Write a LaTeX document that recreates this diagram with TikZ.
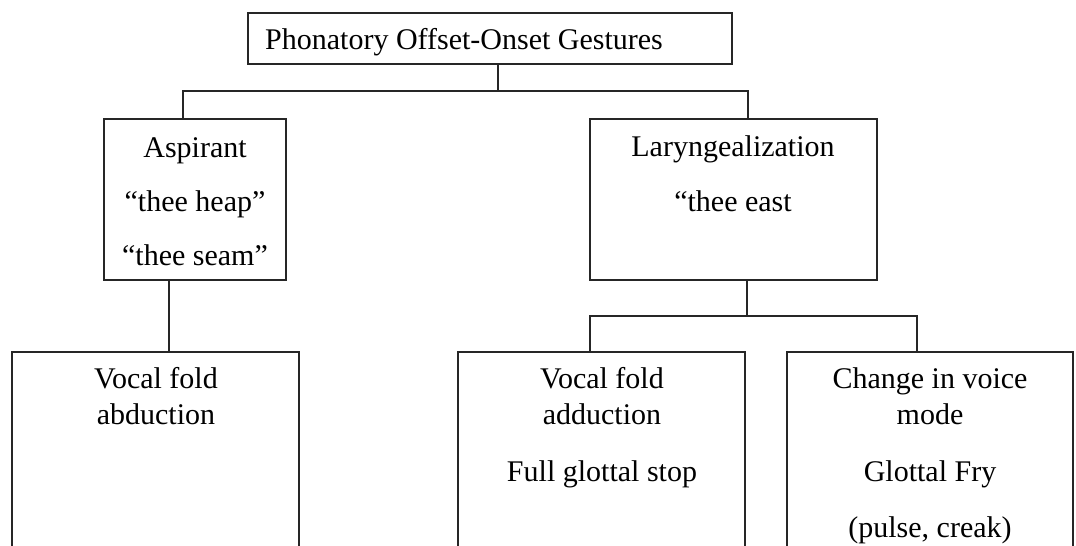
\documentclass[tikz,border=0pt]{standalone}
\usepackage{fontspec}
\setmainfont{Liberation Serif}
\begin{document}
\begin{tikzpicture}[x=1pt,y=-1pt,
  box/.style={draw=black!85, line width=1.1pt, inner sep=0pt, outer sep=0pt, rectangle},
  conn/.style={draw=black!85, line width=1.1pt},
  txt/.style={anchor=base, inner sep=0pt, font=\fontsize{30}{36}\selectfont, text=black}]
\useasboundingbox (0,0) rectangle (1076,546);
\fill[white] (0,0) rectangle (1076,546);
\clip (0,0) rectangle (1076,546);
% boxes
\node[box, minimum width=484pt, minimum height=51pt] (top) at (490,38.5) {};
\node[box, minimum width=182pt, minimum height=161pt] (asp) at (195,199.5) {};
\node[box, minimum width=287pt, minimum height=161pt] (lar) at (733.5,199.5) {};
\node[box, minimum width=287pt, minimum height=220pt] (b1) at (155.5,462) {};
\node[box, minimum width=287pt, minimum height=220pt] (b2) at (601.5,462) {};
\node[box, minimum width=286pt, minimum height=220pt] (b3) at (930,462) {};
% texts
\node[txt, anchor=base west] (t0) at (265,49) {Phonatory Offset-Onset Gestures};
\node[txt] (a1) at (195,157) {Aspirant};
\node[txt] (a2) at (195,211) {“thee heap”};
\node[txt] (a3) at (195,265) {“thee seam”};
\node[txt] (l1) at (733,156) {Laryngealization};
\node[txt] (l2) at (733,211) {“thee east};
\node[txt] (p1) at (156,388) {Vocal fold};
\node[txt] (p2) at (156,424) {abduction};
\node[txt] (q1) at (602,388) {Vocal fold};
\node[txt] (q2) at (602,424) {adduction};
\node[txt] (q3) at (602,481) {Full glottal stop};
\node[txt] (r1) at (930,388) {Change in voice};
\node[txt] (r2) at (930,424) {mode};
\node[txt] (r3) at (930,481) {Glottal Fry};
\node[txt] (r4) at (930,537) {(pulse, creak)};
% connectors
\coordinate (tj) at (498,91);
\coordinate (hA) at (183,91);
\coordinate (hB) at (748,91);
\draw[conn] (top.south -| tj) -- (tj);
\draw[conn] (asp.north -| hA) -- (hA) -- (hB) -- (lar.north -| hB);
\coordinate (aj) at (169,300);
\draw[conn] (asp.south -| aj) -- (b1.north -| aj);
\coordinate (lj) at (747,316);
\coordinate (hC) at (590,316);
\coordinate (hD) at (917,316);
\draw[conn] (lar.south -| lj) -- (lj);
\draw[conn] (b2.north -| hC) -- (hC) -- (hD) -- (b3.north -| hD);
\end{tikzpicture}
\end{document}
